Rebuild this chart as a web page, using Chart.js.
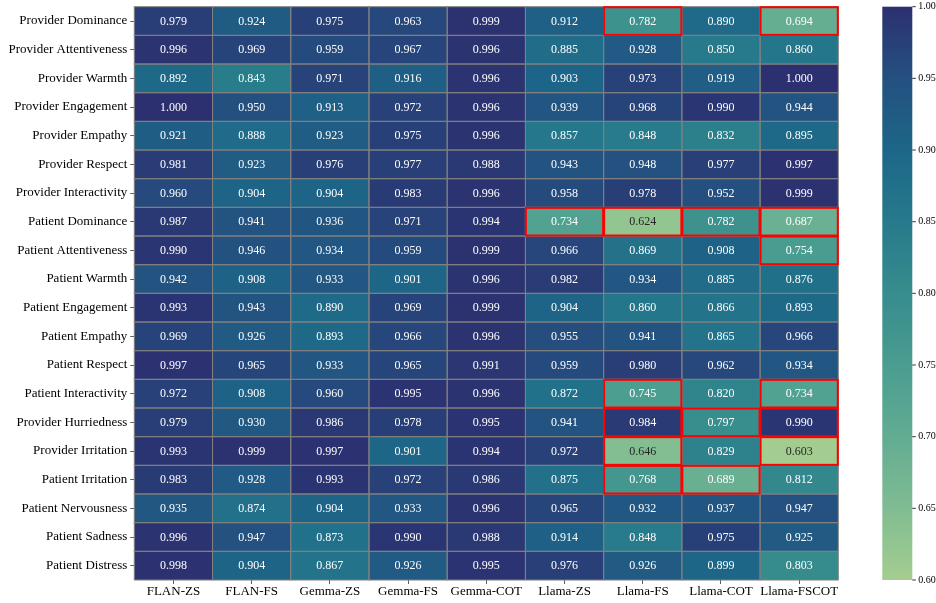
<!DOCTYPE html>
<html>
<head>
<meta charset="utf-8">
<script src="https://cdn.jsdelivr.net/npm/chart.js@4"></script>
<style>
  html, body { margin: 0; padding: 0; background: #ffffff; }
  #wrap { width: 936px; height: 603px; position: relative; }
</style>
</head>
<body>
<div id="wrap"><canvas id="c"></canvas></div>
<script>
// ---------- data ----------
const rowLabels = [
  'Provider Dominance', 'Provider Attentiveness', 'Provider Warmth', 'Provider Engagement',
  'Provider Empathy', 'Provider Respect', 'Provider Interactivity', 'Patient Dominance',
  'Patient Attentiveness', 'Patient Warmth', 'Patient Engagement', 'Patient Empathy',
  'Patient Respect', 'Patient Interactivity', 'Provider Hurriedness', 'Provider Irritation',
  'Patient Irritation', 'Patient Nervousness', 'Patient Sadness', 'Patient Distress'
];
const models = ['FLAN-ZS', 'FLAN-FS', 'Gemma-ZS', 'Gemma-FS', 'Gemma-COT', 'Llama-ZS', 'Llama-FS', 'Llama-COT', 'Llama-FSCOT'];

const flanZS    = [0.979,0.996,0.892,1.000,0.921,0.981,0.960,0.987,0.990,0.942,0.993,0.969,0.997,0.972,0.979,0.993,0.983,0.935,0.996,0.998];
const flanFS    = [0.924,0.969,0.843,0.950,0.888,0.923,0.904,0.941,0.946,0.908,0.943,0.926,0.965,0.908,0.930,0.999,0.928,0.874,0.947,0.904];
const gemmaZS   = [0.975,0.959,0.971,0.913,0.923,0.976,0.904,0.936,0.934,0.933,0.890,0.893,0.933,0.960,0.986,0.997,0.993,0.904,0.873,0.867];
const gemmaFS   = [0.963,0.967,0.916,0.972,0.975,0.977,0.983,0.971,0.959,0.901,0.969,0.966,0.965,0.995,0.978,0.901,0.972,0.933,0.990,0.926];
const gemmaCOT  = [0.999,0.996,0.996,0.996,0.996,0.988,0.996,0.994,0.999,0.996,0.999,0.996,0.991,0.996,0.995,0.994,0.986,0.996,0.988,0.995];
const llamaZS   = [0.912,0.885,0.903,0.939,0.857,0.943,0.958,0.734,0.966,0.982,0.904,0.955,0.959,0.872,0.941,0.972,0.875,0.965,0.914,0.976];
const llamaFS   = [0.782,0.928,0.973,0.968,0.848,0.948,0.978,0.624,0.869,0.934,0.860,0.941,0.980,0.745,0.984,0.646,0.768,0.932,0.848,0.926];
const llamaCOT  = [0.890,0.850,0.919,0.990,0.832,0.977,0.952,0.782,0.908,0.885,0.866,0.865,0.962,0.820,0.797,0.829,0.689,0.937,0.975,0.899];
const llamaFSCOT= [0.694,0.860,1.000,0.944,0.895,0.997,0.999,0.687,0.754,0.876,0.893,0.966,0.934,0.734,0.990,0.603,0.812,0.947,0.925,0.803];
const columns = [flanZS, flanFS, gemmaZS, gemmaFS, gemmaCOT, llamaZS, llamaFS, llamaCOT, llamaFSCOT];

// highlighted cells [row, column]
const highlighted = [[0,6],[0,8],[7,5],[7,6],[7,7],[7,8],[8,8],[13,6],[13,8],[14,6],[14,7],[14,8],[15,6],[15,8],[16,6],[16,7]];

const colorbarTicks = [0.60, 0.65, 0.70, 0.75, 0.80, 0.85, 0.90, 0.95, 1.00];
const vmin = 0.6, vmax = 1.0;

// ---------- colormap (crest-like) ----------
const cmapStops = [
  [0.000, [165,205,144]],
  [0.125, [128,188,146]],
  [0.250, [ 98,172,146]],
  [0.375, [ 74,157,144]],
  [0.500, [ 55,140,141]],
  [0.625, [ 38,122,139]],
  [0.750, [ 29,102,136]],
  [0.875, [ 36, 80,128]],
  [1.000, [ 44, 48,112]]
];
function cmapRGB(v) {
  let t = (v - vmin) / (vmax - vmin);
  t = Math.max(0, Math.min(1, t));
  for (let k = 0; k < cmapStops.length - 1; k++) {
    const [t0, c0] = cmapStops[k], [t1, c1] = cmapStops[k + 1];
    if (t <= t1) {
      const f = (t - t0) / (t1 - t0);
      return c0.map((c, i) => Math.round(c + (c1[i] - c) * f));
    }
  }
  return cmapStops[cmapStops.length - 1][1];
}
const rgbStr = c => `rgb(${c[0]},${c[1]},${c[2]})`;
function textColorFor(c) {
  const lin = c.map(x => { x /= 255; return x <= 0.03928 ? x / 12.92 : Math.pow((x + 0.055) / 1.055, 2.4); });
  const L = 0.2126 * lin[0] + 0.7152 * lin[1] + 0.0722 * lin[2];
  return L > 0.408 ? '#262626' : '#ffffff';
}

const FONT = "'Liberation Serif', 'Times New Roman', serif";

// ---------- datasets: one stacked unit-width bar per cell ----------
const datasets = models.map((m, j) => ({
  label: m,
  data: rowLabels.map(() => 1),
  values: columns[j],
  backgroundColor: columns[j].map(v => rgbStr(cmapRGB(v))),
  borderWidth: 0,
  barPercentage: 1.0,
  categoryPercentage: 1.0
}));

const heatPlugin = {
  id: 'heat',
  afterDatasetsDraw(chart) {
    const ctx = chart.ctx;
    const cells = [];
    chart.data.datasets.forEach((ds, j) => {
      const meta = chart.getDatasetMeta(j);
      meta.data.forEach((el, i) => {
        const p = el.getProps(['x', 'y', 'base', 'height'], true);
        const left = Math.min(p.x, p.base), right = Math.max(p.x, p.base);
        cells.push({ i, j, left, right, top: p.y - p.height / 2, bottom: p.y + p.height / 2, cx: (left + right) / 2, cy: p.y, v: ds.values[i] });
      });
    });
    ctx.save();
    // gray cell borders
    ctx.strokeStyle = '#808080';
    ctx.lineWidth = 1;
    cells.forEach(c => ctx.strokeRect(c.left, c.top, c.right - c.left, c.bottom - c.top));
    // annotations
    ctx.font = `12px ${FONT}`;
    ctx.textAlign = 'center';
    ctx.textBaseline = 'middle';
    cells.forEach(c => {
      ctx.fillStyle = textColorFor(cmapRGB(c.v));
      ctx.fillText(c.v.toFixed(3), c.cx, c.cy + 0.5);
    });
    // red highlight boxes
    ctx.strokeStyle = '#ff0000';
    ctx.lineWidth = 2;
    highlighted.forEach(([r, col]) => {
      const c = cells.find(q => q.i === r && q.j === col);
      if (c) ctx.strokeRect(c.left + 0.5, c.top + 0.5, c.right - c.left - 1, c.bottom - c.top - 1);
    });
    // colorbar (spans the full height of the heatmap)
    const area = chart.chartArea;
    const x0 = area.right + 44, w = 30;
    const yOf = v => area.bottom - (v - vmin) / (vmax - vmin) * (area.bottom - area.top);
    const yTop = yOf(vmax), yBot = yOf(vmin);
    const grad = ctx.createLinearGradient(0, yBot, 0, yTop);
    cmapStops.forEach(([t, c]) => grad.addColorStop(t, rgbStr(c)));
    ctx.fillStyle = grad;
    ctx.fillRect(x0, yTop, w, yBot - yTop);
    ctx.strokeStyle = '#000';
    ctx.lineWidth = 0.8;
    ctx.fillStyle = '#000';
    ctx.font = `10px ${FONT}`;
    ctx.textAlign = 'left';
    ctx.textBaseline = 'middle';
    colorbarTicks.forEach(t => {
      const y = yOf(t);
      ctx.beginPath();
      ctx.moveTo(x0 + w, y);
      ctx.lineTo(x0 + w + 3.5, y);
      ctx.stroke();
      ctx.fillText(t.toFixed(2), x0 + w + 6, y);
    });
    ctx.restore();
  }
};

new Chart(document.getElementById('c'), {
  type: 'bar',
  data: { labels: rowLabels, datasets },
  plugins: [heatPlugin],
  options: {
    indexAxis: 'y',
    responsive: true,
    maintainAspectRatio: false,
    animation: false,
    layout: { padding: { top: 6.7, right: 97.7, bottom: 0, left: 0 } },
    plugins: { legend: { display: false }, tooltip: { enabled: false } },
    scales: {
      x: {
        type: 'linear',
        stacked: true,
        min: 0,
        max: models.length,
        afterBuildTicks: s => { s.ticks = models.map((m, j) => ({ value: j + 0.5 })); },
        afterFit: s => { s.height = 23; s.paddingLeft = 0; s.paddingRight = 0; },
        ticks: {
          autoSkip: false,
          maxRotation: 0,
          padding: 0,
          color: '#000',
          font: { family: FONT, size: 13 },
          callback: (v, idx) => models[idx]
        },
        grid: { drawOnChartArea: false, drawTicks: true, tickLength: 4, tickColor: '#333', tickWidth: 0.8 },
        border: { display: false }
      },
      y: {
        type: 'category',
        stacked: true,
        offset: true,
        afterFit: s => { s.width = 134.3; s.paddingTop = 0; s.paddingBottom = 0; },
        ticks: {
          autoSkip: false,
          padding: 3,
          color: '#000',
          font: { family: FONT, size: 13 }
        },
        grid: { offset: false, drawOnChartArea: false, drawTicks: true, tickLength: 4, tickColor: '#333', tickWidth: 0.8 },
        border: { display: false }
      }
    }
  }
});
</script>
</body>
</html>
